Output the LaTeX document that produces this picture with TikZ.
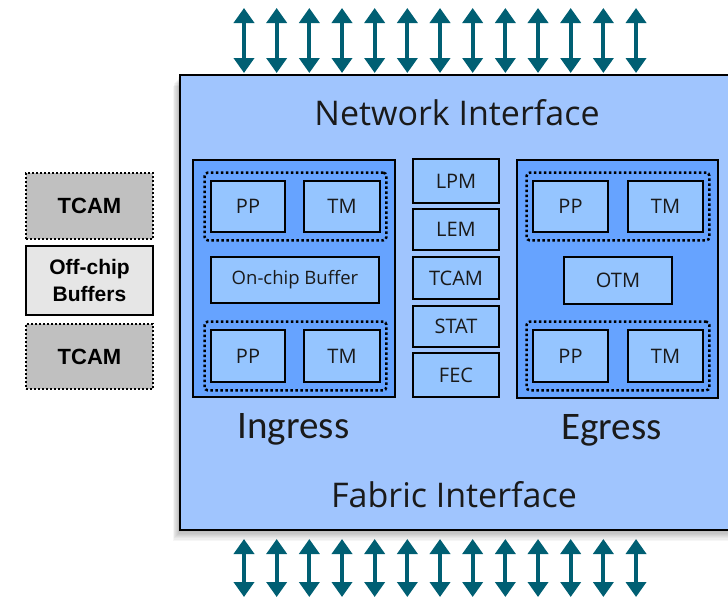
\documentclass[tikz,border=0pt]{standalone}
\usepackage{fontspec}
\setmainfont{Open Sans}
\newfontfamily\labelfont{Carlito}
\newfontfamily\memfont{Liberation Sans}
\usetikzlibrary{arrows.meta,fit}

\definecolor{chipblue}{HTML}{A0C5FE}
\definecolor{regionblue}{HTML}{66A3FF}
\definecolor{blockblue}{HTML}{95C5FF}
\definecolor{linkteal}{HTML}{005F73}
\definecolor{tcamgray}{HTML}{C0C0C0}
\definecolor{bufgray}{HTML}{E6E6E6}
\definecolor{ink}{HTML}{1A1A1A}

\tikzset{
  block/.style={draw=black, line width=2.6pt, fill=blockblue, inner sep=0pt,
    text=ink, font=\fontsize{20}{22}\selectfont},
  region/.style={draw=black, line width=2.4pt, fill=regionblue, inner sep=0pt},
  group/.style={draw=black, line width=2.5pt, dash pattern=on 2.5pt off 2.5pt,
    rounded corners=3pt, inner xsep=5pt, inner ysep=7pt},
  extmem/.style={draw=black, line width=2pt, dash pattern=on 2pt off 2pt, fill=tcamgray,
    minimum width=127pt, minimum height=65pt, inner sep=0pt,
    font=\memfont\bfseries\fontsize{22}{24}\selectfont},
  link/.style={linkteal, line width=4pt,
    {Triangle[width=20pt,length=15pt]}-{Triangle[width=20pt,length=15pt]}}
}

\begin{document}
\begin{tikzpicture}[x=1pt, y=-1pt]
\useasboundingbox (0,0) rectangle (728,605);

% chip with soft shadow
\foreach \s in {1,...,9}
  \fill[black, opacity=0.035] ({180-0.8*\s},{75+1.2*\s}) rectangle ({740-0.8*\s},{530+1.2*\s});
\node[draw=black, line width=2.4pt, fill=chipblue, minimum width=560pt, minimum height=455pt,
  inner sep=0pt] (chip) at (460,302.5){};

\node[anchor=base, text=ink, font=\fontsize{34}{36}\selectfont] (ni) at (457,125){Network Interface};
\node[anchor=base, text=ink, font=\fontsize{34}{36}\selectfont] (fi) at (454,507){Fabric Interface};

% ingress
\node[region, minimum width=202pt, minimum height=237pt] (ing) at (294,278.5){};
\node[block, minimum width=74pt, minimum height=51pt] (ipp1) at (248,206.5){PP};
\node[block, minimum width=76pt, minimum height=51pt] (itm1) at (342,206.5){TM};
\node[block, minimum width=168pt, minimum height=46pt, font=\fontsize{18.5}{20}\selectfont] (buf) at (295,280){On-chip Buffer};
\node[block, minimum width=74pt, minimum height=52pt] (ipp2) at (248,356){PP};
\node[block, minimum width=76pt, minimum height=52pt] (itm2) at (342,356){TM};
\node[group, fit=(ipp1)(itm1)] (ig1) {};
\node[group, fit=(ipp2)(itm2)] (ig2) {};
\node[anchor=base, text=ink, font=\labelfont\fontsize{39}{41}\selectfont] (ingl) at (293.5,438){Ingress};

% lookup tables
\node[block, minimum width=86pt, minimum height=44pt] (lpm) at (456,181){LPM};
\node[block, minimum width=86pt, minimum height=41pt] (lem) at (456,229.5){LEM};
\node[block, minimum width=86pt, minimum height=42pt] (tcam) at (456,278){TCAM};
\node[block, minimum width=86pt, minimum height=41pt] (stat) at (456,326.5){STAT};
\node[block, minimum width=86pt, minimum height=44pt] (fec) at (456,375){FEC};

% egress
\node[region, minimum width=201pt, minimum height=238pt] (egr) at (617.5,279){};
\node[block, minimum width=75pt, minimum height=51pt] (epp1) at (570.5,206.5){PP};
\node[block, minimum width=75pt, minimum height=51pt] (etm1) at (665.5,206.5){TM};
\node[block, minimum width=108pt, minimum height=47pt] (otm) at (618,280.5){OTM};
\node[block, minimum width=75pt, minimum height=52pt] (epp2) at (570.5,356){PP};
\node[block, minimum width=75pt, minimum height=52pt] (etm2) at (665.5,356){TM};
\node[group, fit=(epp1)(etm1)] (eg1) {};
\node[group, fit=(epp2)(etm2)] (eg2) {};
\node[anchor=base, text=ink, font=\labelfont\fontsize{39}{41}\selectfont] (egrl) at (611.5,439){Egress};

% off-chip memories
\node[extmem, minimum height=66pt] (xtcam1) at (89.5,206){TCAM};
\node[extmem, draw=black, solid, line width=2.4pt, fill=bufgray, minimum height=69pt, align=center,
  font=\memfont\bfseries\fontsize{21}{27}\selectfont] (xbuf) at (89.5,280.5){Off-chip\\Buffers};
\node[extmem] (xtcam2) at (89.5,356.5){TCAM};

% links
\foreach \i in {0,...,12}{
  \coordinate (nt\i) at ({244+32.67*\i},8);
  \coordinate (nb\i) at ({244+32.67*\i},73);
  \coordinate (ft\i) at ({244+32.67*\i},539);
  \coordinate (fb\i) at ({244+32.67*\i},597);
  \draw[link] (nt\i) -- (nb\i);
  \draw[link] (ft\i) -- (fb\i);
}
\end{tikzpicture}
\end{document}
